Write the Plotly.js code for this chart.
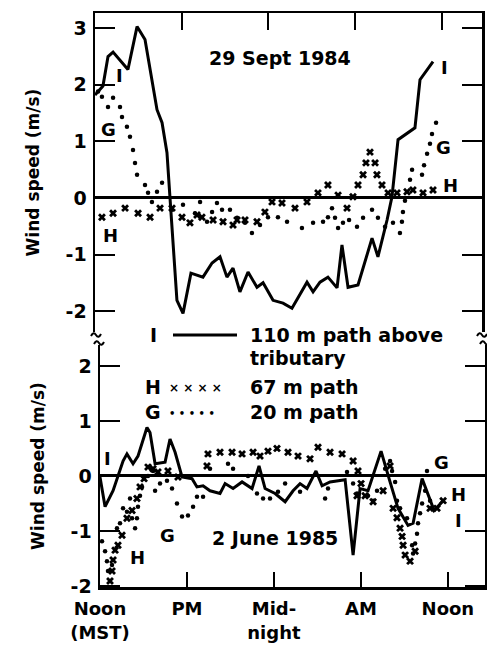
<!DOCTYPE html>
<html>
<head>
<meta charset="utf-8">
<script src="https://cdn.plot.ly/plotly-3.0.1.min.js"></script>
<style>html,body{margin:0;padding:0;background:#fff;}#chart{width:487px;height:651px;}</style>
</head>
<body>
<div id="chart"></div>
<script>
// ---- Data: 29 Sept 1984 (top panel), hours since midnight (12 = Noon) ----
const topI_hours = [12.00,12.55,12.90,13.25,14.28,14.91,15.46,16.29,16.64,16.98,17.19,17.67,18.09,18.64,19.47,20.10,20.65,21.13,21.55,22.03,22.59,23.21,23.63,24.32,25.01,25.63,26.67,27.09,27.57,28.12,28.75,29.09,29.51,30.20,31.17,31.58,32.21,32.55,32.97,34.14,34.49,35.39];
const topI_speed = [1.82,1.98,2.50,2.58,2.27,3.03,2.80,1.56,1.33,0.80,0.00,-1.81,-2.04,-1.33,-1.40,-1.15,-1.04,-1.40,-1.24,-1.66,-1.31,-1.58,-1.50,-1.81,-1.86,-1.95,-1.49,-1.66,-1.49,-1.40,-1.59,-0.83,-1.58,-1.54,-0.71,-1.04,-0.39,0.02,1.03,1.24,2.09,2.41];

const topH_hours = [12.48,13.25,14.08,14.98,15.81,16.50,17.33,18.02,18.57,19.06,19.40,20.17,20.86,21.55,21.83,22.38,23.21,23.76,24.25,24.94,25.84,26.67,27.43,28.12,28.82,29.44,29.85,30.20,30.55,30.75,31.03,31.38,31.51,31.86,32.28,32.90,33.59,34.00,34.70,35.39];
const topH_speed = [-0.34,-0.27,-0.18,-0.27,-0.34,-0.18,-0.18,-0.34,-0.44,-0.30,-0.34,-0.39,-0.42,-0.48,-0.39,-0.39,-0.42,-0.25,-0.07,-0.09,-0.18,-0.07,0.09,0.23,0.05,-0.18,0.02,0.23,0.41,0.62,0.81,0.62,0.41,0.23,0.09,0.09,0.11,0.14,0.09,0.14];

const topG_hours = [12.21,12.48,12.90,13.25,13.73,13.87,14.21,14.42,14.63,14.77,14.91,15.46,15.67,15.94,16.29,16.64,17.33,18.09,18.92,19.27,19.75,20.10,20.44,20.79,21.34,21.83,22.38,22.86,23.42,23.97,24.66,25.29,26.32,27.09,27.78,28.12,28.40,28.61,28.82,29.16,29.58,30.13,30.55,31.17,31.58,32.07,32.62,33.10,33.24,33.31,33.45,33.80,33.94,34.63,34.77,34.98,35.18,35.32,35.60];
const topG_speed = [1.88,1.79,1.61,1.77,1.61,1.43,1.26,1.08,0.85,0.62,0.41,0.23,0.09,-0.07,0.11,0.27,-0.21,-0.12,-0.27,-0.07,-0.42,-0.25,-0.09,-0.21,-0.21,-0.35,-0.44,-0.62,-0.48,-0.34,-0.34,-0.42,-0.53,-0.44,-0.42,-0.34,-0.18,-0.35,-0.53,-0.44,-0.39,-0.51,-0.35,-0.21,-0.35,-0.51,-0.44,-0.62,-0.42,-0.25,-0.05,0.32,0.50,0.41,0.58,0.78,0.96,1.13,1.33];

// ---- Data: 2 June 1985 (bottom panel) ----
const botI_hours = [12.00,12.35,12.90,13.59,13.86,14.28,14.62,15.24,15.45,15.80,16.49,16.83,17.18,17.66,18.35,18.69,19.11,19.59,20.28,20.63,21.18,21.80,22.49,22.97,23.39,24.08,24.77,25.32,25.80,26.28,26.90,27.32,27.87,28.91,29.46,29.94,30.49,31.39,32.01,32.56,33.25,33.60,34.22,35.05,35.67];
const botI_speed = [-0.02,-0.56,-0.27,0.27,0.40,0.22,0.36,0.88,0.79,0.22,0.25,0.67,0.43,-0.02,-0.05,-0.20,-0.18,-0.27,-0.32,-0.14,-0.23,-0.11,-0.23,0.18,-0.23,-0.32,-0.47,-0.27,-0.14,-0.23,0.09,-0.18,-0.11,-0.07,-1.44,-0.23,-0.27,0.45,-0.11,-0.59,-0.90,-0.86,-0.05,-0.63,-0.45];

const botH_hours = [12.69,12.83,12.90,13.04,13.24,13.52,13.86,14.21,14.55,14.76,15.04,15.31,15.66,16.00,16.69,17.38,19.38,19.45,20.28,21.11,21.80,22.56,23.04,23.59,24.21,24.97,25.66,26.49,27.04,27.87,28.70,29.46,29.80,30.01,29.73,30.29,30.84,31.53,32.01,32.22,32.49,32.70,32.84,32.91,33.05,33.39,33.74,34.77,35.25,35.67];
const botH_speed = [-1.91,-1.73,-1.53,-1.35,-1.26,-1.08,-0.77,-0.63,-0.41,-0.20,-0.05,0.16,0.13,0.07,0.09,-0.02,0.18,0.40,0.43,0.43,0.40,0.43,0.36,0.45,0.50,0.43,0.36,0.31,0.52,0.43,0.40,0.27,0.09,-0.14,-0.36,-0.36,-0.47,-0.27,0.18,-0.59,-0.76,-0.95,-1.10,-1.26,-1.44,-1.55,-1.37,-0.59,-0.59,-0.45];

const botG_hours = [12.14,12.35,12.48,12.55,12.69,12.83,13.17,13.38,13.59,13.86,14.07,14.21,14.42,14.55,14.62,14.76,14.90,15.31,15.66,15.80,16.14,16.62,16.97,17.31,17.66,18.07,18.42,18.69,19.11,19.59,20.83,21.18,22.21,22.83,23.25,23.73,24.28,24.77,25.80,26.63,27.53,27.73,29.04,29.46,29.73,30.49,30.84,31.11,31.67,32.01,32.15,32.36,32.49,32.70,33.18,33.53,33.60,33.74,33.87,33.94,34.08,34.22,34.43,34.56,34.77];
const botG_speed = [-1.19,-1.37,-1.55,-1.73,-1.91,-1.62,-0.95,-0.86,-0.59,-0.65,-0.41,-0.77,-0.95,-0.77,-0.56,-0.36,-0.20,0.00,0.09,-0.27,-0.14,-0.09,-0.23,-0.50,-0.74,-0.72,-0.56,-0.38,-0.38,0.13,0.22,0.13,0.00,-0.32,-0.41,-0.41,-0.29,-0.14,-0.29,1.01,-0.41,-0.23,0.07,-0.14,-0.32,-0.36,-0.45,-0.27,0.13,0.27,0.09,-0.11,-0.45,-0.59,-0.77,-1.26,-1.41,-1.23,-1.05,-0.86,-0.68,-0.50,-0.27,0.09,-0.45];

// ---- Tick labels ----
const timeTickVals = [12, 18, 24, 30, 36];
const timeTickText = ['Noon<br>(MST)', 'PM', 'Mid-<br>night', 'AM', 'Noon'];
const topSpeedTicks = [-2, -1, 0, 1, 2, 3];
const botSpeedTicks = [-2, -1, 0, 1, 2];

// ---- helpers for layout placement (pixels -> paper) ----
const W = 487, H = 651;
const px = x => x / W;
const py = y => 1 - y / H;

const FONT = 'DejaVu Sans, Liberation Sans, Arial, sans-serif';
const bold = (size) => ({family: FONT, size: size, color: '#000', weight: 'bold'});

const lineStyle = {color: '#000', width: 3};
const crossMarker = {symbol: 'x', size: 7, color: '#000', line: {width: 0}};
const dotMarker = {symbol: 'circle', size: 4.5, color: '#000'};

const traces = [
  {x: topG_hours, y: topG_speed, type: 'scatter', mode: 'markers', marker: dotMarker, xaxis: 'x', yaxis: 'y', name: '20 m path'},
  {x: topH_hours, y: topH_speed, type: 'scatter', mode: 'markers', marker: crossMarker, xaxis: 'x', yaxis: 'y', name: '67 m path'},
  {x: topI_hours, y: topI_speed, type: 'scatter', mode: 'lines', line: lineStyle, xaxis: 'x', yaxis: 'y', name: '110 m path above tributary'},
  {x: botG_hours, y: botG_speed, type: 'scatter', mode: 'markers', marker: dotMarker, xaxis: 'x2', yaxis: 'y2', name: '20 m path'},
  {x: botH_hours, y: botH_speed, type: 'scatter', mode: 'markers', marker: crossMarker, xaxis: 'x2', yaxis: 'y2', name: '67 m path'},
  {x: botI_hours, y: botI_speed, type: 'scatter', mode: 'lines', line: lineStyle, xaxis: 'x2', yaxis: 'y2', name: '110 m path above tributary'}
];

function ann(text, x, y, size, opts) {
  return Object.assign({text: text, x: px(x), y: py(y), xref: 'paper', yref: 'paper',
    showarrow: false, font: bold(size), xanchor: 'center', yanchor: 'middle'}, opts || {});
}

const annotations = [
  ann('29 Sept 1984', 280, 58, 19),
  ann('2 June 1985', 275, 538, 19),
  // curve labels, top
  ann('I', 119, 75, 18), ann('G', 108, 130, 18), ann('H', 110, 235, 18),
  ann('I', 444, 67, 18), ann('G', 443, 147, 18), ann('H', 450, 185, 18),
  // curve labels, bottom
  ann('I', 107, 458, 18), ann('G', 167, 535, 18), ann('H', 137, 557, 18),
  ann('G', 441, 462, 18), ann('H', 458, 494, 18), ann('I', 458, 520, 18),
  // legend
  ann('I', 153, 335, 19),
  ann('110 m path above', 248, 335, 19, {xanchor: 'left'}),
  ann('tributary', 248, 358, 19, {xanchor: 'left'}),
  ann('H', 153, 387, 19),
  ann('× × × ×', 195, 388, 12),
  ann('67 m path', 248, 387, 19, {xanchor: 'left'}),
  ann('G', 153, 412, 19),
  ann('• • • • •', 192, 413, 10),
  ann('20 m path', 248, 412, 19, {xanchor: 'left'})
];

function tilde(x, y) {
  // small axis-break squiggle centred at pixel (x, y)
  const p = (a, b) => px(a).toFixed(5) + ',' + py(b).toFixed(5);
  return {type: 'path', xref: 'paper', yref: 'paper',
    path: 'M' + p(x - 5, y + 1) + ' Q' + p(x - 2.5, y - 4) + ' ' + p(x, y) + ' T' + p(x + 5, y - 1),
    line: {color: '#000', width: 2}};
}

const shapes = [
  {type: 'line', xref: 'paper', yref: 'paper', x0: px(173), x1: px(237), y0: py(335), y1: py(335), line: {color: '#000', width: 3}},
  tilde(96, 335), tilde(99, 343), tilde(482, 335), tilde(485, 343)
];

const layout = {
  width: W, height: H,
  margin: {l: 0, r: 0, t: 0, b: 0},
  paper_bgcolor: '#fff', plot_bgcolor: '#fff',
  showlegend: false,
  hovermode: false,
  font: bold(18),
  xaxis: {
    domain: [px(95), px(482)], range: [12, 38.78], anchor: 'y', side: 'top',
    showline: true, linecolor: '#000', linewidth: 2.5, mirror: false,
    ticks: 'inside', ticklen: 17, tickwidth: 2, tickcolor: '#000',
    tickvals: timeTickVals.slice(1), showticklabels: false,
    showgrid: false, zeroline: false, automargin: false
  },
  yaxis: {
    domain: [py(332), py(13)], range: [-2.37, 3.27], anchor: 'x',
    showline: true, linecolor: '#000', linewidth: 2.5, mirror: 'ticks',
    ticks: 'inside', ticklen: 20, tickwidth: 2, tickcolor: '#000',
    tickvals: topSpeedTicks, ticktext: topSpeedTicks.map(String),
    tickfont: bold(19), ticklabelstandoff: 2,
    showgrid: false, zeroline: true, zerolinecolor: '#000', zerolinewidth: 3,
    automargin: false,
    title: {text: 'Wind speed (m/s)', font: bold(17), standoff: 22}
  },
  xaxis2: {
    domain: [px(100), px(485)], range: [12, 38.56], anchor: 'y2', side: 'bottom',
    showline: true, linecolor: '#000', linewidth: 2.5, mirror: false,
    ticks: 'inside', ticklen: 15, tickwidth: 2, tickcolor: '#000',
    tickvals: timeTickVals, ticktext: timeTickText, tickfont: bold(18),
    ticklabelstandoff: 4,
    showgrid: false, zeroline: false, automargin: false
  },
  yaxis2: {
    domain: [py(587), py(345)], range: [-2.02, 2.38], anchor: 'x2',
    showline: true, linecolor: '#000', linewidth: 2.5, mirror: 'ticks',
    ticks: 'inside', ticklen: 20, tickwidth: 2, tickcolor: '#000',
    tickvals: botSpeedTicks, ticktext: botSpeedTicks.map(String),
    tickfont: bold(19), ticklabelstandoff: 2,
    showgrid: false, zeroline: true, zerolinecolor: '#000', zerolinewidth: 3,
    automargin: false,
    title: {text: 'Wind speed (m/s)', font: bold(17), standoff: 22}
  },
  annotations: annotations,
  shapes: shapes
};

Plotly.newPlot('chart', traces, layout, {displayModeBar: false, staticPlot: true});
</script>
</body>
</html>
